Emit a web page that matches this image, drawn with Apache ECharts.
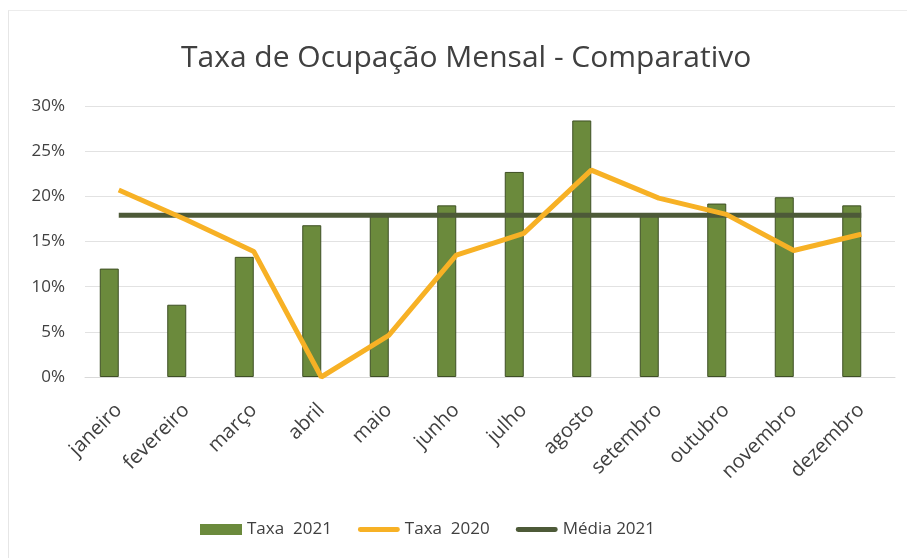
<!DOCTYPE html>
<html><head>
<meta charset="UTF-8">
<title>Taxa de Ocupação Mensal - Comparativo</title>
<style>
  body { margin: 0; background: #fff; overflow: hidden; }
  .frame {
    position: absolute; left: 8px; top: 10px; width: 920px; height: 600px;
    border-left: 1px solid #e6e6e6; border-top: 1px solid #ececec;
  }
  #chart { position: absolute; left: 0; top: 0; width: 907px; height: 558px; }
</style>
</head>
<body>
  <div class="frame"></div>
  <div id="chart"></div>

  <script src="https://cdn.jsdelivr.net/npm/echarts@6/dist/echarts.min.js"></script>
  <script>
    // dados (%)
    const meses = ['janeiro', 'fevereiro', 'março', 'abril', 'maio', 'junho',
                   'julho', 'agosto', 'setembro', 'outubro', 'novembro', 'dezembro'];
    const taxa2021 = [12, 8, 13.3, 16.8, 18, 19, 22.7, 28.4, 17.9, 19.2, 19.9, 19];
    const taxa2020 = [20.7, 17.4, 13.9, 0, 4.6, 13.5, 15.9, 22.9, 19.8, 18, 14, 15.8];
    const media2021 = [17.9, 17.9, 17.9, 17.9, 17.9, 17.9, 17.9, 17.9, 17.9, 17.9, 17.9, 17.9];

    const fonte = '"Open Sans", sans-serif';
    const cinza = '#404040';
    const traco = 'path://M2,0 L40,0 A2,2 0 0 1 40,5 L2,5 A2,2 0 0 1 2,0 Z';

    const chart = echarts.init(document.getElementById('chart'));
    chart.setOption({
      backgroundColor: 'transparent',
      animation: false,
      textStyle: { fontFamily: fonte },
      title: {
        text: 'Taxa de Ocupação Mensal - Comparativo',
        left: 176,
        top: 38,
        textStyle: { fontFamily: fonte, fontSize: 30, fontWeight: 'normal', color: cinza }
      },
      legend: {
        bottom: 15,
        left: 195,
        itemWidth: 42,
        itemHeight: 11,
        itemGap: 26,
        textStyle: { fontFamily: fonte, fontSize: 17, color: cinza },
        data: [
          { name: 'Taxa  2021', icon: 'rect', itemStyle: { borderWidth: 0 } },
          { name: 'Taxa  2020', icon: traco },
          { name: 'Média 2021', icon: traco }
        ]
      },
      grid: { left: 85, right: 12, top: 106, bottom: 181 },
      xAxis: {
        type: 'category',
        data: meses,
        axisLine: { lineStyle: { color: '#d9d9d9' } },
        axisTick: { show: false },
        axisLabel: { rotate: 45, margin: 30, fontSize: 20, color: cinza, fontFamily: fonte }
      },
      yAxis: {
        type: 'value',
        min: 0,
        max: 30,
        interval: 5,
        axisLine: { show: false },
        axisTick: { show: false },
        axisLabel: { formatter: '{value}%', margin: 20, fontSize: 17, color: cinza, fontFamily: fonte },
        splitLine: { lineStyle: { color: '#e2e2e2' } }
      },
      series: [
        {
          name: 'Taxa  2021',
          type: 'bar',
          barWidth: 19,
          barGap: '0%',
          data: taxa2021,
          itemStyle: { color: '#6b8a3c', borderColor: '#3e4f24', borderWidth: 1 }
        },
        {
          // série vazia (reserva espaço como no Excel)
          name: 'vazio',
          type: 'bar',
          barWidth: 19,
          barGap: '0%',
          data: []
        },
        {
          name: 'Média 2021',
          type: 'line',
          data: media2021,
          symbol: 'none',
          z: 3,
          lineStyle: { color: '#4d5a38', width: 5 },
          itemStyle: { color: '#4d5a38' }
        },
        {
          name: 'Taxa  2020',
          type: 'line',
          data: taxa2020,
          symbol: 'none',
          z: 4,
          lineStyle: { color: '#f7b125', width: 5 },
          itemStyle: { color: '#f7b125' }
        }
      ]
    });
  </script>
</body>
</html>
